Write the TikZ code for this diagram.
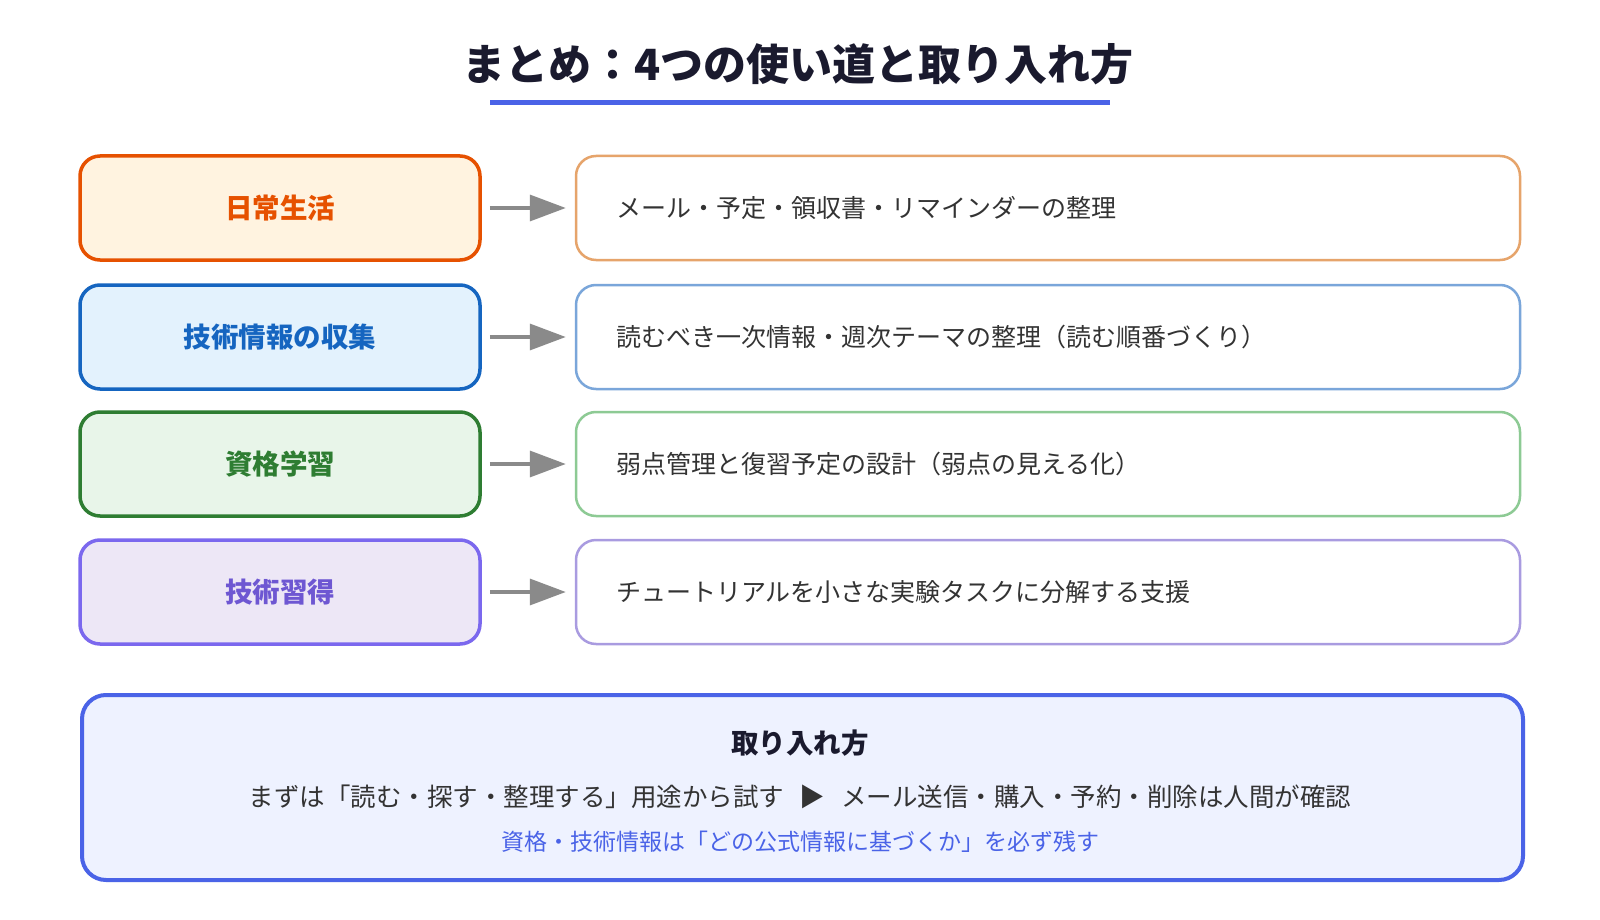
\documentclass[tikz,border=0pt]{standalone}
\usepackage{fontspec}
\setmainfont{Noto Sans CJK JP}
\usetikzlibrary{arrows.meta}
\definecolor{orangeD}{HTML}{E65100}
\definecolor{orangeF}{HTML}{FFF3E0}
\definecolor{orangeL}{HTML}{E6A46B}
\definecolor{blueD}{HTML}{1565C0}
\definecolor{blueF}{HTML}{E3F2FD}
\definecolor{blueL}{HTML}{7AA6DA}
\definecolor{greenD}{HTML}{2E7D32}
\definecolor{greenF}{HTML}{E8F5E9}
\definecolor{greenL}{HTML}{8DCA94}
\definecolor{purpleD}{HTML}{7B68EE}
\definecolor{purpleT}{HTML}{6E57D2}
\definecolor{purpleF}{HTML}{EDE7F6}
\definecolor{purpleL}{HTML}{A99BE0}
\definecolor{accent}{HTML}{4A63E7}
\definecolor{accentF}{HTML}{EEF2FF}
\definecolor{arrowgray}{HTML}{8A8A8A}
\definecolor{textdark}{HTML}{333333}
\definecolor{titledark}{HTML}{1A1A2E}
\begin{document}
\begin{tikzpicture}[x=1pt,y=-1pt,
  catbox/.style={draw, line width=3.5pt, rounded corners=20pt, minimum width=400pt,
    minimum height=104pt, inner sep=0pt, font=\fontsize{27.5}{33}\selectfont\bfseries},
  descbox/.style={draw, line width=2.5pt, rounded corners=20pt, fill=white,
    minimum height=104pt, inner xsep=40pt, inner ysep=0pt, text width=864pt,
    align=left, text=textdark, font=\fontsize{25}{30}\selectfont},
  flow/.style={draw=arrowgray, line width=3.5pt, -{Triangle[length=36pt,width=26pt]},
    shorten <=8pt, shorten >=9pt}
]
\path[use as bounding box, fill=white] (0,0) rectangle (1600,920);

% title
\node[font=\fontsize{43}{50}\selectfont\bfseries, text=titledark] (title) at (798,64) {まとめ：4つの使い道と取り入れ方};
\coordinate (ulA) at (490,103);
\coordinate (ulB) at (1110,103);
\draw[accent, line width=5pt] (ulA) -- (ulB);

% rows
\node[catbox, draw=orangeD, fill=orangeF, text=orangeD] (c1) at (280,208) {\raisebox{-2pt}{日常生活}};
\node[catbox, draw=blueD, fill=blueF, text=blueD] (c2) at (280,337) {\raisebox{-2pt}{技術情報の収集}};
\node[catbox, draw=greenD, fill=greenF, text=greenD] (c3) at (280,464) {\raisebox{-2pt}{資格学習}};
\node[catbox, draw=purpleD, fill=purpleF, text=purpleT] (c4) at (280,592) {\raisebox{-2pt}{技術習得}};

\node[descbox, draw=orangeL] (d1) at (1048,208) {\raisebox{-2pt}{メール・予定・領収書・リマインダーの整理}};
\node[descbox, draw=blueL] (d2) at (1048,337) {\raisebox{-2pt}{読むべき一次情報・週次テーマの整理（読む順番づくり）}};
\node[descbox, draw=greenL] (d3) at (1048,464) {\raisebox{-2pt}{弱点管理と復習予定の設計（弱点の見える化）}};
\node[descbox, draw=purpleL] (d4) at (1048,592) {\raisebox{-2pt}{チュートリアルを小さな実験タスクに分解する支援}};

\draw[flow] (c1.east) -- (d1.west);
\draw[flow] (c2.east) -- (d2.west);
\draw[flow] (c3.east) -- (d3.west);
\draw[flow] (c4.east) -- (d4.west);

% bottom box
\node[draw=accent, fill=accentF, line width=4pt, rounded corners=24pt,
  minimum width=1441pt, minimum height=185pt, inner sep=0pt] (howbox) at (802.5,787.5) {};
\node[font=\fontsize{27.5}{32}\selectfont\bfseries, text=titledark] (howtitle) at (800,743) {取り入れ方};
\node[font=\fontsize{25.5}{30}\selectfont, text=textdark] (howline) at (800,797)
  {まずは「読む・探す・整理する」用途から試す\hspace{16pt}▶\hspace{16pt}メール送信・購入・予約・削除は人間が確認};
\node[font=\fontsize{23}{28}\selectfont, text=accent] (hownote) at (800,842)
  {資格・技術情報は「どの公式情報に基づくか」を必ず残す};
\end{tikzpicture}
\end{document}
